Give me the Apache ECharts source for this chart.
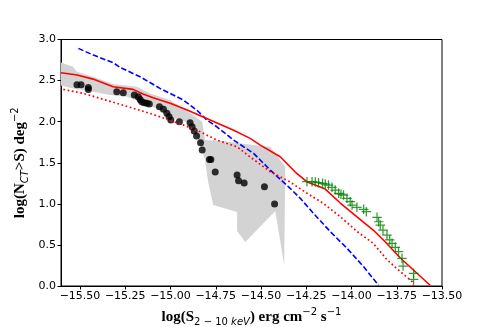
<!DOCTYPE html>
<html>
<head>
<meta charset="utf-8">
<script src="https://cdn.jsdelivr.net/npm/echarts@6/dist/echarts.min.js"></script>
<style>
html, body { margin: 0; padding: 0; background: #fff; }
#chart { width: 491px; height: 327px; }
</style>
</head>
<body>
<div id="chart"></div>
<script>
// tick values
var xTicks = [-15.5, -15.25, -15.0, -14.75, -14.5, -14.25, -14.0, -13.75, -13.5];

// gray band (upper edge left->right, then lower edge right->left)
var bandX = [-15.605, -15.539, -15.517, -15.428, -15.317, -15.185, -15.113, -15.002, -14.892, -14.825,
    -14.809, -14.726, -14.543, -14.449, -14.366, -14.372,
    -14.421, -14.587, -14.632, -14.632, -14.764, -14.792, -14.809, -14.836, -14.864, -14.892,
    -14.986, -15.058, -15.152, -15.240, -15.334, -15.428, -15.539, -15.605];
var bandY = [2.719, 2.668, 2.607, 2.546, 2.457, 2.425, 2.344, 2.263, 2.105, 1.999,
    1.776, 1.768, 1.715, 1.695, 1.451, 0.255,
    0.912, 0.535, 0.669, 0.900, 0.985, 1.265, 1.533, 1.715, 1.873, 1.983,
    2.044, 2.141, 2.226, 2.303, 2.324, 2.364, 2.405, 2.439];

// black points
var dotX = [-15.517, -15.494, -15.454, -15.454, -15.297, -15.261, -15.200, -15.178, -15.168, -15.159,
    -15.146, -15.131, -15.117, -15.061, -15.039, -15.020, -15.008, -14.998, -14.951, -14.892,
    -14.881, -14.869, -14.856, -14.834, -14.825, -14.785, -14.777, -14.753, -14.632, -14.624,
    -14.593, -14.481, -14.425];
var dotY = [2.449, 2.449, 2.417, 2.393, 2.364, 2.352, 2.324, 2.303, 2.271, 2.242,
    2.230, 2.223, 2.214, 2.181, 2.150, 2.101, 2.060, 2.019, 1.999, 1.987,
    1.938, 1.886, 1.825, 1.743, 1.655, 1.541, 1.539, 1.387, 1.350, 1.281,
    1.253, 1.208, 0.998];

// green crosses
var crossX = [-14.246, -14.218, -14.200, -14.182, -14.160, -14.145, -14.127, -14.108, -14.090, -14.071,
    -14.058, -14.044, -14.025, -14.007, -13.997, -13.970, -13.933, -13.918, -13.859, -13.850,
    -13.841, -13.826, -13.804, -13.789, -13.776, -13.758, -13.740, -13.721, -13.715, -13.657, -13.657];
var crossY = [1.269, 1.269, 1.265, 1.257, 1.250, 1.241, 1.229, 1.201, 1.168, 1.128,
    1.118, 1.107, 1.067, 1.026, 0.985, 0.957, 0.933, 0.904, 0.836, 0.782,
    0.742, 0.681, 0.620, 0.560, 0.519, 0.471, 0.417, 0.337, 0.243, 0.155, 0.082];

// red solid model
var redX = [-15.605, -15.517, -15.428, -15.317, -15.207, -15.152, -15.096, -15.002, -14.908, -14.781,
    -14.654, -14.560, -14.504, -14.394, -14.311, -14.244, -14.145, -14.062, -13.968, -13.880,
    -13.813, -13.730, -13.658, -13.564];
var redY = [2.595, 2.567, 2.518, 2.425, 2.393, 2.336, 2.291, 2.223, 2.141, 2.019,
    1.898, 1.797, 1.715, 1.573, 1.387, 1.265, 1.180, 1.010, 0.839, 0.681,
    0.535, 0.341, 0.195, 0.006];

// red dotted model
var dotLineX = [-15.592, -15.482, -15.297, -15.113, -14.929, -14.836, -14.744, -14.633, -14.560, -14.449,
    -14.339, -14.245, -14.156, -14.062, -13.968, -13.880, -13.802, -13.730, -13.664, -13.657];
var dotLineY = [2.393, 2.344, 2.223, 2.101, 1.959, 1.877, 1.776, 1.695, 1.570, 1.391,
    1.265, 1.128, 1.006, 0.843, 0.661, 0.519, 0.316, 0.174, 0.052, 0.0];

// blue dashed model
var blueX = [-15.509, -15.426, -15.316, -15.279, -15.168, -15.058, -14.929, -14.855, -14.799, -14.744,
    -14.652, -14.541, -14.449, -14.339, -14.283, -14.210, -14.117, -14.025, -13.933, -13.850];
var blueY = [2.892, 2.810, 2.717, 2.661, 2.546, 2.405, 2.263, 2.141, 2.019, 1.938,
    1.776, 1.614, 1.411, 1.189, 1.067, 0.884, 0.661, 0.459, 0.235, 0.006];

function zip(xs, ys) {
    return xs.map(function (x, i) { return [x, ys[i]]; });
}

var chart = echarts.init(document.getElementById('chart'));

var tickFont = { fontFamily: 'DejaVu Sans', fontSize: 11, color: '#000' };
var nameRich = {
    b: { fontFamily: 'Liberation Serif', fontWeight: 'bold', fontSize: 15, color: '#000', lineHeight: 20 },
    sub: { fontFamily: 'DejaVu Sans', fontSize: 10, color: '#000', verticalAlign: 'bottom', lineHeight: 20 },
    subi: { fontFamily: 'DejaVu Sans', fontStyle: 'italic', fontSize: 10, color: '#000', verticalAlign: 'bottom', lineHeight: 20 },
    sup: { fontFamily: 'DejaVu Sans', fontSize: 10, color: '#000', verticalAlign: 'top', lineHeight: 20 }
};

var option = {
    animation: false,
    backgroundColor: '#fff',
    grid: {
        left: 61, right: 49, top: 39.5, bottom: 41,
        outerBoundsMode: 'none',
        containLabel: false,
        show: true, borderColor: '#000', borderWidth: 1, backgroundColor: 'transparent'
    },
    xAxis: {
        type: 'value',
        min: -15.605,
        max: -13.5,
        name: '{b|log(S}{sub|2 − 10 }{subi|keV}{b|) erg cm}{sup|−2}{b| s}{sup|−1}',
        nameLocation: 'middle',
        nameGap: 21,
        nameTextStyle: { rich: nameRich, verticalAlign: 'top' },
        axisLine: { show: true, onZero: false, lineStyle: { color: '#000', width: 1 } },
        axisTick: { show: true, length: 3.5, customValues: xTicks, lineStyle: { color: '#000' } },
        axisLabel: Object.assign({
            customValues: xTicks,
            margin: 5,
            formatter: function (v) { return (v < 0 ? '−' : '') + Math.abs(v).toFixed(2); }
        }, tickFont),
        splitLine: { show: false }
    },
    yAxis: {
        type: 'value',
        min: 0,
        max: 3,
        interval: 0.5,
        name: '{b|log(N}{subi|CT}{b|>S) deg}{sup|−2}',
        nameLocation: 'middle',
        nameMoveOverlap: false,
        nameGap: 31,
        nameTextStyle: { rich: nameRich },
        axisLine: { show: true, lineStyle: { color: '#000', width: 1 } },
        axisTick: { show: true, length: 3.5, lineStyle: { color: '#000' } },
        axisLabel: Object.assign({
            margin: 5,
            formatter: function (v) { return v.toFixed(1); }
        }, tickFont),
        splitLine: { show: false }
    },
    series: [
        {
            type: 'custom',
            z: 1,
            silent: true,
            data: [[bandX[0], bandY[0]]],
            renderItem: function (params, api) {
                var pts = bandX.map(function (x, i) { return api.coord([x, bandY[i]]); });
                return {
                    type: 'polygon',
                    shape: { points: pts },
                    style: { fill: '#d3d3d3', stroke: null }
                };
            }
        },
        {
            type: 'scatter',
            z: 3,
            symbol: 'circle',
            symbolSize: 7,
            itemStyle: { color: '#000' },
            data: zip(dotX, dotY)
        },
        {
            type: 'line',
            z: 4,
            showSymbol: false,
            lineStyle: { color: '#0000ff', width: 1.6, type: [5.5, 2.4] },
            data: zip(blueX, blueY)
        },
        {
            type: 'line',
            z: 4,
            showSymbol: false,
            lineStyle: { color: '#ff0000', width: 1.7, type: [1.7, 2.6] },
            data: zip(dotLineX, dotLineY)
        },
        {
            type: 'line',
            z: 4,
            showSymbol: false,
            lineStyle: { color: '#ff0000', width: 1.6 },
            data: zip(redX, redY)
        },
        {
            type: 'scatter',
            z: 5,
            symbol: 'path://M4.35,0H5.65V4.35H10V5.65H5.65V10H4.35V5.65H0V4.35H4.35Z',
            symbolSize: 9.5,
            itemStyle: { color: '#008000' },
            data: zip(crossX, crossY)
        }
    ]
};

chart.setOption(option);
</script>
</body>
</html>
